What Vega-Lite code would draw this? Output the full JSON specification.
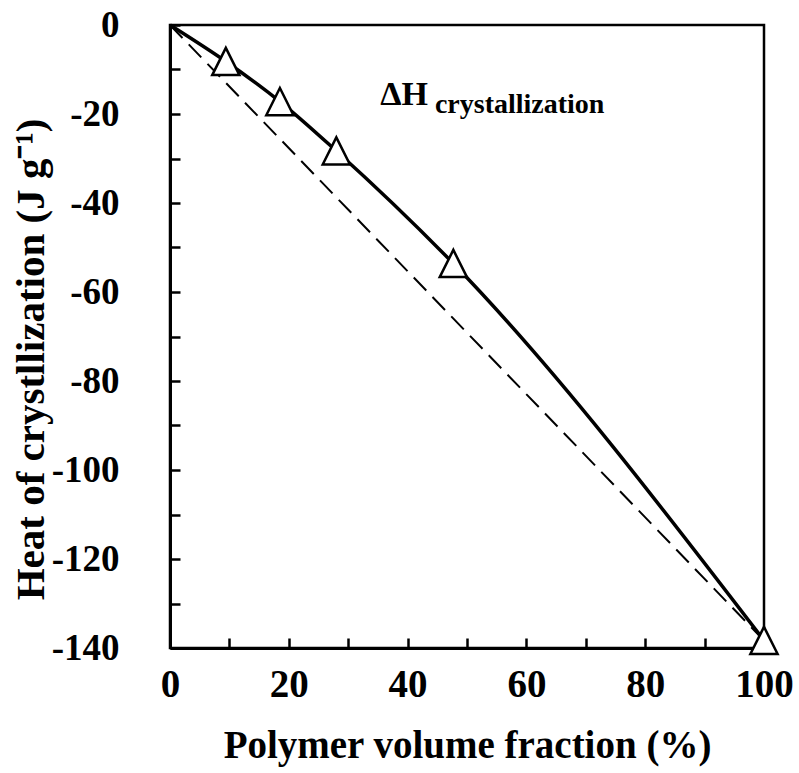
{
  "$schema": "https://vega.github.io/schema/vega-lite/v6.json",
  "width": 594,
  "height": 623,
  "autosize": {"type": "none"},
  "padding": {"left": 170, "top": 25, "right": 35, "bottom": 125},
  "background": "white",
  "config": {
    "view": {"stroke": "black", "strokeWidth": 2.5},
    "font": "Liberation Serif",
    "axis": {
      "domainColor": "black",
      "domainWidth": 3,
      "tickColor": "black",
      "tickWidth": 2.5,
      "tickSize": -10,
      "grid": false,
      "labelFlush": false,
      "labelOverlap": false,
      "labelFont": "Liberation Serif",
      "labelFontSize": 39,
      "labelFontWeight": "bold",
      "labelColor": "black",
      "titleFont": "Liberation Serif",
      "titleFontWeight": "bold",
      "titleColor": "black"
    }
  },
  "datasets": {
    "measured": [
      {"phi": 0, "dh": 0},
      {"phi": 9.4, "dh": -8.2},
      {"phi": 18.5, "dh": -17.2},
      {"phi": 28.0, "dh": -28.3},
      {"phi": 47.7, "dh": -53.6},
      {"phi": 100, "dh": -138.3}
    ],
    "ideal": [
      {"phi": 0, "dh": 0},
      {"phi": 100, "dh": -138.3}
    ]
  },
  "layer": [
    {
      "data": {"name": "ideal"},
      "mark": {"type": "line", "color": "black", "strokeWidth": 2, "strokeDash": [18, 9]},
      "encoding": {
        "x": {
          "field": "phi", "type": "quantitative",
          "scale": {"domain": [0, 100], "nice": false},
          "axis": {
            "values": [0,5,10,15,20,25,30,35,40,45,50,55,60,65,70,75,80,85,90,95,100],
            "labelExpr": "datum.value % 20 == 0 ? toString(datum.value) : ''",
            "labelPadding": 27,
            "title": "Polymer volume fraction (%)",
            "titleFontSize": 39,
            "titlePadding": 22
          }
        },
        "y": {
          "field": "dh", "type": "quantitative",
          "scale": {"domain": [-140, 0], "nice": false},
          "axis": {
            "values": [0,-10,-20,-30,-40,-50,-60,-70,-80,-90,-100,-110,-120,-130,-140],
            "labelExpr": "datum.value % 20 == 0 ? toString(datum.value) : ''",
            "labelPadding": 61,
            "labelFontSize": 37,
            "title": "Heat of crystllization (J g⁻¹)",
            "titleFontSize": 41,
            "titleX": -118,
            "titleY": 334
          }
        }
      }
    },
    {
      "data": {"name": "measured"},
      "mark": {"type": "line", "color": "black", "strokeWidth": 3.5, "interpolate": "monotone"},
      "encoding": {
        "x": {"field": "phi", "type": "quantitative"},
        "y": {"field": "dh", "type": "quantitative"}
      }
    },
    {
      "data": {"name": "measured"},
      "transform": [{"filter": "datum.phi > 0"}],
      "mark": {"type": "point", "shape": "M-1,1H1L0,-1Z", "size": 740, "filled": true, "fill": "white", "stroke": "black", "strokeWidth": 2.5, "opacity": 1},
      "encoding": {
        "x": {"field": "phi", "type": "quantitative"},
        "y": {"field": "dh", "type": "quantitative"}
      }
    },
    {
      "data": {"values": [{"phi": 35.4, "dh": -18.0, "label": "ΔH"}]},
      "mark": {"type": "text", "align": "left", "baseline": "alphabetic", "font": "Liberation Serif", "fontWeight": "bold", "fontSize": 34, "color": "black"},
      "encoding": {
        "x": {"field": "phi", "type": "quantitative"},
        "y": {"field": "dh", "type": "quantitative"},
        "text": {"field": "label"}
      }
    },
    {
      "data": {"values": [{"phi": 44.6, "dh": -19.8, "label": "crystallization"}]},
      "mark": {"type": "text", "align": "left", "baseline": "alphabetic", "font": "Liberation Serif", "fontWeight": "bold", "fontSize": 28, "color": "black"},
      "encoding": {
        "x": {"field": "phi", "type": "quantitative"},
        "y": {"field": "dh", "type": "quantitative"},
        "text": {"field": "label"}
      }
    }
  ]
}
